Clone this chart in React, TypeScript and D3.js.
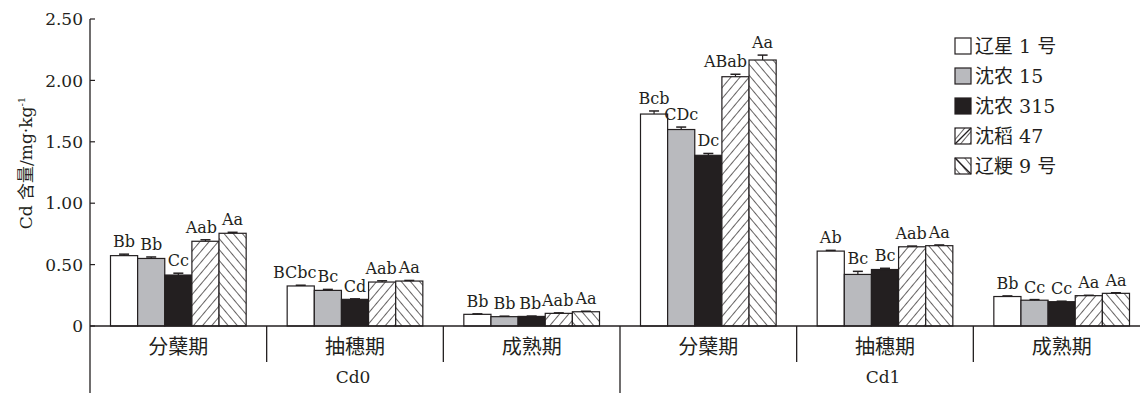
import { useEffect, useRef } from 'react';
import * as d3 from 'd3';

const treatments = ['Cd0', 'Cd1'];
const periods = ['分蘖期', '抽穗期', '成熟期'];
const varieties = ['辽星 1 号', '沈农 15', '沈农 315', '沈稻 47', '辽粳 9 号'];

// values per variety, across the 6 groups (Cd0: 分蘖/抽穗/成熟, Cd1: 分蘖/抽穗/成熟)
const liaoxing1 = [0.573, 0.326, 0.095, 1.726, 0.61, 0.24];
const shennong15 = [0.55, 0.29, 0.076, 1.6, 0.42, 0.21];
const shennong315 = [0.415, 0.217, 0.078, 1.39, 0.46, 0.198];
const shendao47 = [0.69, 0.358, 0.103, 2.03, 0.645, 0.247];
const liaojing9 = [0.755, 0.366, 0.116, 2.166, 0.654, 0.266];

const liaoxing1Err = [0.012, 0.006, 0.004, 0.025, 0.006, 0.005];
const shennong15Err = [0.012, 0.008, 0.004, 0.02, 0.025, 0.005];
const shennong315Err = [0.015, 0.004, 0.003, 0.015, 0.01, 0.004];
const shendao47Err = [0.012, 0.01, 0.004, 0.02, 0.006, 0.003];
const liaojing9Err = [0.008, 0.005, 0.004, 0.04, 0.006, 0.005];

const liaoxing1Lbl = ['Bb', 'BCbc', 'Bb', 'Bcb', 'Ab', 'Bb'];
const shennong15Lbl = ['Bb', 'Bc', 'Bb', 'CDc', 'Bc', 'Cc'];
const shennong315Lbl = ['Cc', 'Cd', 'Bb', 'Dc', 'Bc', 'Cc'];
const shendao47Lbl = ['Aab', 'Aab', 'Aab', 'ABab', 'Aab', 'Aa'];
const liaojing9Lbl = ['Aa', 'Aa', 'Aa', 'Aa', 'Aa', 'Aa'];

const yTicks = [0, 0.5, 1, 1.5, 2, 2.5];

const W = 1140;
const H = 393;
const ink = '#231f20';
const serif = "'DejaVu Serif', 'Noto Sans CJK SC', serif";

const App = () => {
	const svgRef = useRef<SVGSVGElement>(null);

	useEffect(() => {
		const svg = d3.select(svgRef.current);
		svg.selectAll('*').remove();

		const series = [
			{ name: varieties[0], values: liaoxing1, err: liaoxing1Err, lbl: liaoxing1Lbl, fill: '#ffffff' },
			{ name: varieties[1], values: shennong15, err: shennong15Err, lbl: shennong15Lbl, fill: '#b9babe' },
			{ name: varieties[2], values: shennong315, err: shennong315Err, lbl: shennong315Lbl, fill: '#231f20' },
			{ name: varieties[3], values: shendao47, err: shendao47Err, lbl: shendao47Lbl, fill: 'url(#hatchF)' },
			{ name: varieties[4], values: liaojing9, err: liaojing9Err, lbl: liaojing9Lbl, fill: 'url(#hatchB)' },
		];

		const groups = treatments.flatMap(t => periods.map(p => `${t}|${p}`));

		const x0 = d3.scaleBand().domain(groups).range([90, 1150]).paddingInner(0).paddingOuter(0);
		const x1 = d3
			.scaleBand()
			.domain(series.map(s => s.name))
			.range([20.5, x0.bandwidth() - 20.5]);
		const y = d3.scaleLinear().domain([0, 2.5]).range([326, 19]);

		const defs = svg.append('defs');
		const hatch = (id, rot) => {
			const p = defs
				.append('pattern')
				.attr('id', id)
				.attr('patternUnits', 'userSpaceOnUse')
				.attr('width', 7)
				.attr('height', 7)
				.attr('patternTransform', `rotate(${rot})`);
			p.append('rect').attr('width', 7).attr('height', 7).attr('fill', '#fff');
			p.append('line').attr('x1', 0).attr('y1', 0).attr('x2', 0).attr('y2', 7).attr('stroke', ink).attr('stroke-width', 1.4);
		};
		hatch('hatchF', 40);
		hatch('hatchB', -40);

		// bars
		groups.forEach((g, gi) => {
			const gx = x0(g);
			const labels = [];
			const tops = [];
			const lefts = [];
			series.forEach(s => {
				const bx = gx + x1(s.name);
				const v = s.values[gi];
				const e = s.err[gi];
				const cx = bx + x1.bandwidth() / 2;
				tops.push(y(v + e));
				lefts.push(bx);
				svg.append('rect')
					.attr('x', bx)
					.attr('y', y(v))
					.attr('width', x1.bandwidth())
					.attr('height', y(0) - y(v))
					.attr('fill', s.fill)
					.attr('stroke', ink)
					.attr('stroke-width', 1.2);
				svg.append('line').attr('x1', cx).attr('x2', cx).attr('y1', y(v)).attr('y2', y(v + e)).attr('stroke', ink).attr('stroke-width', 1.2);
				svg.append('line').attr('x1', cx - 5).attr('x2', cx + 5).attr('y1', y(v + e)).attr('y2', y(v + e)).attr('stroke', ink).attr('stroke-width', 1.5);
				const t = svg
					.append('text')
					.attr('x', cx)
					.attr('y', y(v + e) - 7)
					.attr('text-anchor', 'middle')
					.attr('font-family', serif)
					.attr('font-size', 16)
					.attr('fill', ink)
					.text(s.lbl[gi]);
				labels.push(t);
			});
			// nudge a label to the left when it runs into the next label or the next (taller) bar
			for (let i = 1; i < labels.length; i++) {
				const a = labels[i - 1].node().getBBox();
				const b = labels[i].node().getBBox();
				let shift = 0;
				const overlapY = Math.min(a.y + a.height, b.y + b.height) - Math.max(a.y, b.y);
				if (a.x + a.width - b.x > 0 && overlapY > 4) shift = a.x + a.width - b.x + 1;
				if (tops[i] < a.y + a.height - 3 && a.x + a.width > lefts[i] - 1) {
					shift = Math.max(shift, a.x + a.width - lefts[i] + 2);
				}
				if (shift > 0) labels[i - 1].attr('x', +labels[i - 1].attr('x') - shift);
			}
		});

		// axes
		svg.append('line').attr('x1', 90).attr('x2', 90).attr('y1', y(2.5)).attr('y2', H).attr('stroke', ink).attr('stroke-width', 1.3);
		svg.append('line').attr('x1', 90).attr('x2', W).attr('y1', y(0)).attr('y2', y(0)).attr('stroke', ink).attr('stroke-width', 1.3);

		yTicks.forEach(t => {
			svg.append('line').attr('x1', 90).attr('x2', 95).attr('y1', y(t)).attr('y2', y(t)).attr('stroke', ink).attr('stroke-width', 1.2);
			svg.append('text')
				.attr('x', 83)
				.attr('y', y(t))
				.attr('dy', '0.36em')
				.attr('text-anchor', 'end')
				.attr('font-family', serif)
				.attr('font-size', 17)
				.attr('fill', ink)
				.text(t === 0 ? '0' : d3.format('.2f')(t));
		});

		// separators and category labels
		groups.forEach((g, gi) => {
			const gx = x0(g);
			if (gi > 0) {
				const long = gi % periods.length === 0;
				svg.append('line')
					.attr('x1', gx)
					.attr('x2', gx)
					.attr('y1', y(0))
					.attr('y2', long ? H : 362)
					.attr('stroke', ink)
					.attr('stroke-width', 1.3);
			}
			svg.append('text')
				.attr('x', gx + x0.bandwidth() / 2)
				.attr('y', 354)
				.attr('text-anchor', 'middle')
				.attr('font-family', serif)
				.attr('font-size', 20)
				.attr('fill', ink)
				.text(g.split('|')[1]);
		});

		treatments.forEach(t => {
			const first = x0(`${t}|${periods[0]}`);
			const last = x0(`${t}|${periods[periods.length - 1]}`) + x0.bandwidth();
			svg.append('text')
				.attr('x', (first + last) / 2 - 2)
				.attr('y', 383)
				.attr('text-anchor', 'middle')
				.attr('font-family', serif)
				.attr('font-size', 17)
				.attr('fill', ink)
				.text(t);
		});

		// y label
		const yl = svg
			.append('text')
			.attr('transform', 'translate(32,163) rotate(-90)')
			.attr('text-anchor', 'middle')
			.attr('font-family', serif)
			.attr('font-size', 17)
			.attr('fill', ink);
		yl.append('tspan').text('Cd 含量/mg·kg');
		yl.append('tspan').attr('font-size', 10).attr('dy', -7).text('-1');

		// legend
		const lg = svg.append('g').attr('transform', 'translate(955,38)');
		series.forEach((s, i) => {
			const row = lg.append('g').attr('transform', `translate(0,${i * 30})`);
			row.append('rect').attr('width', 16).attr('height', 16).attr('fill', s.fill).attr('stroke', ink).attr('stroke-width', 1.2);
			if (i >= 3) {
				row.append('line')
					.attr('x1', 0)
					.attr('y1', i === 3 ? 16 : 0)
					.attr('x2', 16)
					.attr('y2', i === 3 ? 0 : 16)
					.attr('stroke', ink)
					.attr('stroke-width', 1.3);
			}
			row.append('text')
				.attr('x', 20)
				.attr('y', 8)
				.attr('dy', '0.36em')
				.attr('font-family', serif)
				.attr('font-size', 19)
				.attr('fill', ink)
				.text(s.name);
		});
	}, []);

	return <svg ref={svgRef} width={W} height={H} style={{ position: 'absolute', left: 0, top: 0, background: '#fff' }}></svg>;
};

export default App;
